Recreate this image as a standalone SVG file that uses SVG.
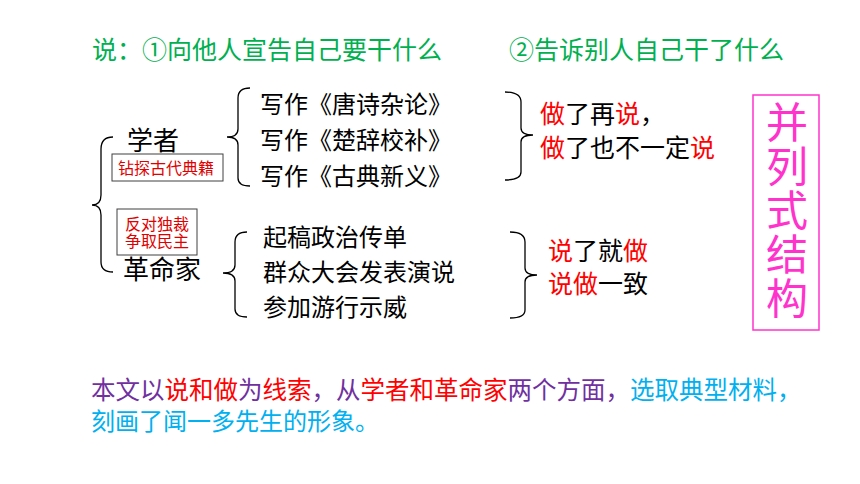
<svg xmlns="http://www.w3.org/2000/svg" width="860" height="484" viewBox="0 0 860 484">
<style>
text{font-family:"Noto Sans CJK SC","Noto Sans",sans-serif;}
.t{font-size:24px;fill:#000;}
.h{font-size:26px;fill:#000;}
.s{font-size:16px;fill:#E00000;}
.g{font-size:25px;fill:#00B050;}
.r{fill:#FF0000;}
.p{fill:#7030A0;}
.c{fill:#00B0F0;}
.brace{fill:none;stroke:#000;stroke-width:1.3;}
.box{fill:#fff;stroke:#404040;stroke-width:1;}
.pink{font-size:42px;fill:#FF33CC;letter-spacing:2px;}
</style>
<rect width="860" height="484" fill="#fff"/>
<g id="title">
<text class="g" x="92" y="59">说：①向他人宣告自己要干什么</text>
<text class="g" x="509" y="59">②告诉别人自己干了什么</text>
</g>
<g id="connectors">
<path class="brace" d="M113,137 Q101,137 101,149 L101,195 Q101,205 92,205 Q101,205 101,215 L101,262 Q101,272 113,272"/>
<path class="brace" d="M250,88 Q238,88 238,98 L238,129 Q238,137 227,137 Q238,137 238,145 L238,178 Q238,186 250,186"/>
<path class="brace" d="M247,232 Q235,232 235,242 L235,265 Q235,273 223,273 Q235,273 235,281 L235,309 Q235,317 247,317"/>
<path class="brace" d="M505,92 Q521,92 521,102 L521,128 Q521,135 533,135 Q521,135 521,142 L521,172 Q521,180 505,180"/>
<path class="brace" d="M510,232 Q525,232 525,242 L525,268 Q525,275 537,275 Q525,275 525,282 L525,310 Q525,318 510,318"/>
</g>
<g id="scholar">
<text class="h" x="127" y="150">学者</text>
</g>
<g id="scholar-note">
<rect class="box" x="112" y="154" width="111" height="27"/>
<text class="s" x="118" y="174">钻探古代典籍</text>
</g>
<g id="revolutionary-note">
<rect class="box" x="117" y="209" width="80" height="46"/>
<text class="s" x="125" y="230">反对独裁<tspan x="125" dy="17">争取民主</tspan></text>
</g>
<g id="revolutionary">
<text class="h" x="123" y="279">革命家</text>
</g>
<g id="works">
<text class="t" x="260" y="113">写作《唐诗杂论》</text>
<text class="t" x="260" y="149">写作《楚辞校补》</text>
<text class="t" x="260" y="185">写作《古典新义》</text>
</g>
<g id="actions">
<text class="t" x="263" y="246">起稿政治传单</text>
<text class="t" x="263" y="281">群众大会发表演说</text>
<text class="t" x="263" y="316">参加游行示威</text>
</g>
<g id="scholar-summary">
<text class="t" x="540" y="123" style="font-size:25px"><tspan class="r">做</tspan>了再<tspan class="r">说</tspan>，</text>
<text class="t" x="540" y="157" style="font-size:25px"><tspan class="r">做</tspan>了也不一定<tspan class="r">说</tspan></text>
</g>
<g id="revolutionary-summary">
<text class="t" x="548" y="260" style="font-size:25px"><tspan class="r">说</tspan>了就<tspan class="r">做</tspan></text>
<text class="t" x="548" y="293" style="font-size:25px"><tspan class="r">说做</tspan>一致</text>
</g>
<g id="structure">
<rect x="753" y="95" width="66" height="235" fill="none" stroke="#FF33CC" stroke-width="1.5"/>
<text class="pink" x="787" y="101" writing-mode="vertical-rl">并列式结构</text>
</g>
<g id="summary">
<text x="91" y="399" style="font-size:24.5px"><tspan class="p">本文以</tspan><tspan class="r">说和做</tspan><tspan class="p">为</tspan><tspan class="r">线索</tspan><tspan class="p">，从</tspan><tspan class="r">学者和革命家</tspan><tspan class="p">两个方面，</tspan><tspan class="c">选取典型材料，</tspan><tspan class="c" x="91" dy="31" style="font-size:24px">刻画了闻一多先生的形象。</tspan></text>
</g>
</svg>
